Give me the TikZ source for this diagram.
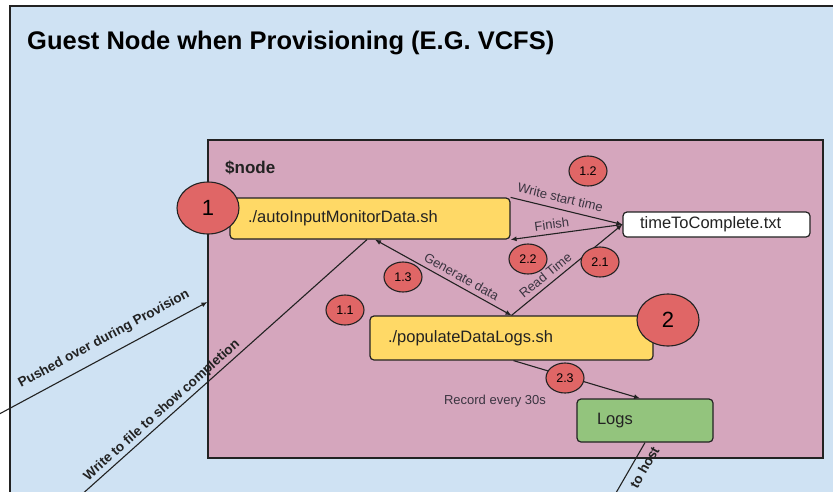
\documentclass[tikz,border=0pt]{standalone}
\usepackage{fontspec}
\setmainfont{Liberation Sans}
\usetikzlibrary{arrows.meta}
\usetikzlibrary{shapes.geometric}

\definecolor{vmblue}{HTML}{CFE2F3}
\definecolor{nodepink}{HTML}{D5A6BD}
\definecolor{scriptyellow}{HTML}{FFD966}
\definecolor{stepred}{HTML}{E06666}
\definecolor{logsgreen}{HTML}{93C47D}
\definecolor{ink}{HTML}{222222}
\definecolor{labelgrey}{HTML}{3A3440}

\begin{document}
\begin{tikzpicture}[x=1pt, y=-1pt, >={Latex[length=6pt,width=5pt]},
    area/.style={draw=ink, line width=1.2pt, inner sep=0pt},
    box/.style={draw=ink, line width=1.2pt, rounded corners=4pt, align=left, inner ysep=0pt, text=ink, font=\fontsize{16.5}{18}\selectfont},
    script/.style={box, fill=scriptyellow},
    num/.style={draw=ink, line width=1.1pt, ellipse, fill=stepred, inner sep=0pt, minimum width=38pt, minimum height=30pt, font=\fontsize{12.5}{14}\selectfont},
    bignum/.style={num, minimum width=62pt, minimum height=52pt, font=\fontsize{22}{24}\selectfont},
    wire/.style={draw=ink, line width=1.1pt},
    lbl/.style={text=labelgrey, font=\fontsize{13}{15}\selectfont},
    blbl/.style={text=ink, font=\bfseries\fontsize{13.5}{15}\selectfont}]
    \useasboundingbox (0,0) rectangle (833,491);
    \clip (0,0) rectangle (833,491);

    % containers
    \node[area, fill=vmblue, minimum width=840pt, minimum height=504pt]   (vm)    at (430,258)   {};
    \node[area, fill=nodepink, minimum width=615pt, minimum height=318pt] (guest) at (515.5,299) {};
    \node[anchor=base west, inner sep=0pt, font=\bfseries\fontsize{25.5}{27}\selectfont] (title) at (27,49) {Guest Node when Provisioning (E.G. VCFS)};
    \node[anchor=west, inner sep=0pt, text=ink, font=\bfseries\fontsize{17}{19}\selectfont] (tag) at (225,168) {\$node};

    % boxes
    \node[script, text width=244pt, inner xsep=18pt, minimum height=41pt]         (auto) at (370,218.5)   {./autoInputMonitorData.sh};
    \node[box, fill=white, text width=153pt, inner xsep=17pt, minimum height=25pt] (ttc)  at (716.5,224.5) {timeToComplete.txt};
    \node[script, text width=247pt, inner xsep=18pt, minimum height=44pt]         (pop)  at (511.5,338)   {./populateDataLogs.sh};
    \node[box, fill=logsgreen, text width=96pt, inner xsep=20pt, minimum height=43pt] (logs) at (645,420.5) {Logs};
    \node[lbl] (rec) at (495,401) {Record every 30s};

    \coordinate (push) at (-10,419);
    \coordinate (done) at (70,505);
    \coordinate (host) at (609,505);

    % connectors
    \draw[wire, ->] (auto.north east) -- node[lbl, sloped, above=3pt, pos=.42] {Write start time} (ttc.west);
    \draw[wire, ->] (ttc.west) -- node[lbl, sloped, above=1pt, pos=.62] {Finish} (auto.south east);
    \draw[wire, ->] (pop.north) -- node[lbl, sloped, above=1pt, pos=.36] {Read Time} (ttc.west);
    \draw[wire, <->] ([xshift=5pt]auto.south) -- node[lbl, sloped, above=1pt, pos=.6] {Generate data} (pop.north);
    \draw[wire, ->] ([xshift=2pt]pop.south) -- ([xshift=-5pt]logs.north);
    \draw[wire, ->] (push) -- node[blbl, sloped, above=6pt, pos=.56] {Pushed over during Provision} ([yshift=-3pt]guest.west);
    \draw[wire] (done) -- node[blbl, sloped, above=-1pt, pos=.33] {Write to file to show completion} ([xshift=-3pt]auto.south);
    \draw[wire] (host) -- node[blbl, sloped, below=3pt, pos=.7] {to host} (logs.south);

    % steps
    \node[bignum] (s1)  at (208,208) {1};
    \node[bignum] (s2)  at (668,320) {2};
    \node[num]    (s11) at (345,310) {1.1};
    \node[num]    (s12) at (588,171) {1.2};
    \node[num]    (s13) at (403,277) {1.3};
    \node[num]    (s21) at (600,262) {2.1};
    \node[num]    (s22) at (528,259) {2.2};
    \node[num]    (s23) at (565,378) {2.3};
\end{tikzpicture}
\end{document}
